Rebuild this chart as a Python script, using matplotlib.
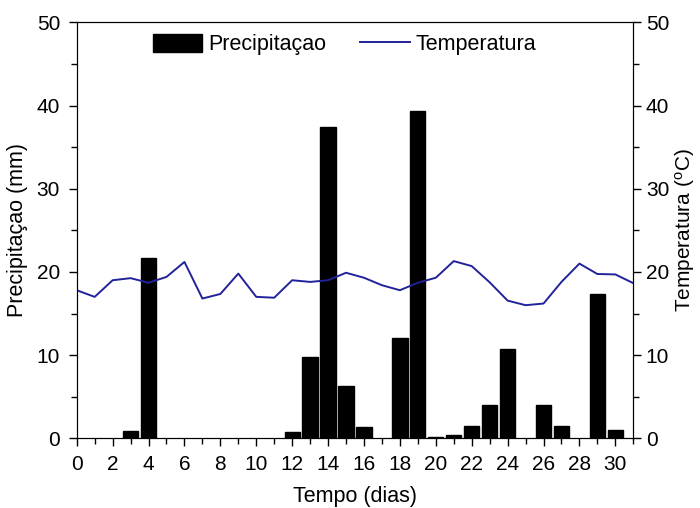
import matplotlib
matplotlib.use("Agg")
import matplotlib.pyplot as plt
from matplotlib.ticker import MultipleLocator

plt.rcParams["font.family"] = ["Liberation Sans", "DejaVu Sans"]
plt.rcParams["mathtext.default"] = "regular"

# Dados
dias_chuva = [3, 4, 12, 13, 14, 15, 16, 18, 19, 20, 21, 22, 23, 24, 26, 27, 29, 30]
precipitacao = [0.9, 21.7, 0.8, 9.8, 37.4, 6.3, 1.4, 12.1, 39.4, 0.2, 0.35, 1.5,
                4.0, 10.7, 4.0, 1.5, 17.4, 1.0]

dias_temp = list(range(0, 32))
temperatura = [17.8, 17.0, 19.0, 19.25, 18.7, 19.4, 21.2, 16.8, 17.35, 19.8,
               17.0, 16.9, 19.0, 18.8, 19.0, 19.9, 19.3, 18.4, 17.8, 18.7,
               19.3, 21.3, 20.7, 18.75, 16.55, 16.0, 16.2, 18.8, 21.0, 19.75,
               19.7, 18.65]

fig = plt.figure(figsize=(7.0, 5.08), dpi=100)
ax = fig.add_axes([0.1096, 0.1372, 0.7951, 0.8188])

barras = ax.bar(dias_chuva, precipitacao, width=0.85, color="black",
                edgecolor="black", label="Precipitaçao")
ax.set_xlim(0, 31)
ax.set_ylim(0, 50)
ax.xaxis.set_major_locator(MultipleLocator(2))
ax.xaxis.set_minor_locator(MultipleLocator(1))
ax.yaxis.set_major_locator(MultipleLocator(10))
ax.yaxis.set_minor_locator(MultipleLocator(5))
ax.tick_params(which="both", direction="out", labelsize=15, width=1, pad=6)
ax.tick_params(which="major", length=6)
ax.tick_params(which="minor", length=4)
ax.set_xlabel("Tempo (dias)", fontsize=15.5, labelpad=9)
ax.set_ylabel("Precipitaçao (mm)", fontsize=15.5, labelpad=6)

ax2 = ax.twinx()
linha, = ax2.plot(dias_temp, temperatura, color="#22229a", linewidth=1.4,
                  label="Temperatura")
ax2.set_ylim(0, 50)
ax2.yaxis.set_major_locator(MultipleLocator(10))
ax2.yaxis.set_minor_locator(MultipleLocator(5))
ax2.tick_params(which="both", direction="out", labelsize=15, width=1, pad=3)
ax2.tick_params(which="major", length=6)
ax2.tick_params(which="minor", length=4)
ax2.set_ylabel("Temperatura ($^{o}$C)", fontsize=15, labelpad=3)

ax.legend([barras, linha], ["Precipitaçao", "Temperatura"], ncol=2,
          loc="upper left", bbox_to_anchor=(0.137, 0.972), frameon=False,
          fontsize=15.5, handlelength=2.3, handleheight=0.9,
          handletextpad=0.25, columnspacing=1.6, borderpad=0,
          borderaxespad=0)

fig.savefig("out.png", dpi=100)
